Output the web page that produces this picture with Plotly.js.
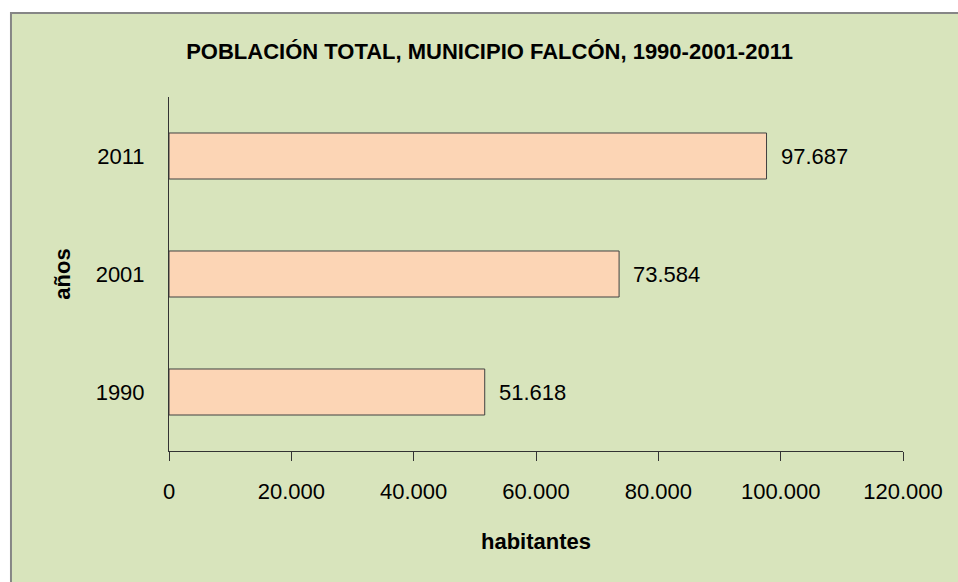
<!DOCTYPE html>
<html>
<head>
<meta charset="utf-8">
<script src="https://cdn.plot.ly/plotly-3.0.1.min.js"></script>
<style>html,body{margin:0;padding:0;background:#fff;}#chart{width:958px;height:582px;}</style>
</head>
<body>
<div id="chart"></div>
<script>
const years = ['1990', '2001', '2011'];
const population = [51618, 73584, 97687];
const xTicks = [0, 20000, 40000, 60000, 80000, 100000, 120000];
const chartTitle = 'POBLACIÓN TOTAL, MUNICIPIO FALCÓN, 1990-2001-2011';
const xTitle = 'habitantes';
const yTitle = 'años';

const FONT = '"Liberation Sans", Arial, sans-serif';

function fmt(n) {
  return String(n).replace(/\B(?=(\d{3})+(?!\d))/g, '.');
}

const trace = {
  type: 'bar',
  orientation: 'h',
  y: years,
  x: population,
  marker: {color: '#FCD5B5', line: {color: '#404040', width: 1}},
  hoverinfo: 'none'
};

const annotations = years.map((yv, i) => ({
  x: population[i], y: i, xref: 'x', yref: 'y',
  text: fmt(population[i]), showarrow: false,
  xanchor: 'left', yanchor: 'middle', xshift: 12,
  font: {family: FONT, size: 22, color: '#000'}
}));

const layout = {
  width: 958, height: 582,
  margin: {l: 169, r: 55, t: 97, b: 131},
  paper_bgcolor: '#ffffff',
  plot_bgcolor: 'rgba(0,0,0,0)',
  separators: ',.',
  showlegend: false,
  bargap: 0.61,
  title: {
    text: '<b>' + chartTitle + '</b>',
    x: 0.511, xanchor: 'center', xref: 'container',
    y: 0.912, yanchor: 'middle', yref: 'container',
    font: {family: FONT, size: 22, color: '#000'}
  },
  xaxis: {
    range: [0, 120000],
    tickvals: xTicks,
    ticktext: xTicks.map(fmt),
    ticks: 'outside', ticklen: 9, tickwidth: 1, tickcolor: '#333',
    showline: true, linecolor: '#333', linewidth: 1,
    showgrid: false, zeroline: false,
    tickfont: {family: FONT, size: 22, color: '#000'},
    ticklabelstandoff: 12,
    title: {text: '<b>' + xTitle + '</b>', font: {family: FONT, size: 22, color: '#000'}, standoff: 30},
    fixedrange: true
  },
  yaxis: {
    type: 'category',
    categoryorder: 'array', categoryarray: years,
    range: [-0.5, 2.5],
    ticks: '', showline: true, linecolor: '#333', linewidth: 1,
    showgrid: false, zeroline: false,
    tickfont: {family: FONT, size: 22, color: '#000'},
    ticklabelstandoff: 19,
    title: {text: '<b>' + yTitle + '</b>', font: {family: FONT, size: 22, color: '#000'}, standoff: 18},
    fixedrange: true
  },
  annotations: annotations,
  shapes: [{
    type: 'rect', xref: 'paper', yref: 'paper', layer: 'below',
    x0: -0.2153, x1: 1.09, y0: -0.40, y1: 1.2373,
    fillcolor: '#D8E4BC', line: {color: '#868686', width: 2}
  }]
};

Plotly.newPlot('chart', [trace], layout, {staticPlot: true, displayModeBar: false});
</script>
</body>
</html>
